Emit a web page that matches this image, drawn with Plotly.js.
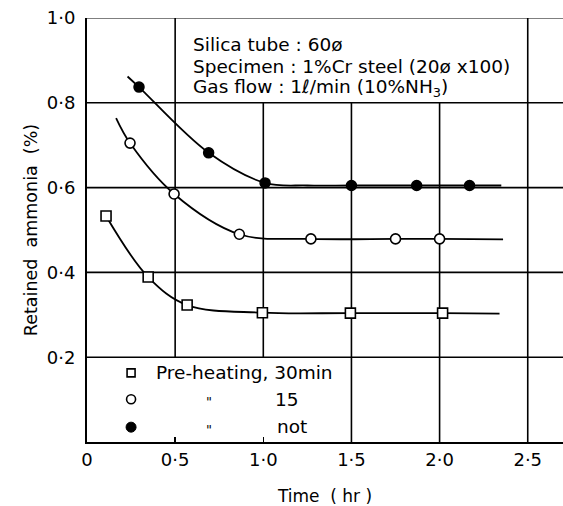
<!DOCTYPE html>
<html><head><meta charset="utf-8">
<script src="https://cdn.plot.ly/plotly-3.0.1.min.js"></script>
<style>body{margin:0;background:#fff}</style>
</head><body><div id="chart" style="width:563px;height:506px"></div>
<script>
// Measured points (time in hr, retained ammonia in %)
const notTime = [0.295, 0.69, 1.01, 1.5, 1.87, 2.17];
const notVal  = [0.837, 0.682, 0.611, 0.605, 0.605, 0.605];
const pre15Time = [0.244, 0.494, 0.864, 1.27, 1.75, 2.0];
const pre15Val  = [0.705, 0.585, 0.49, 0.479, 0.479, 0.479];
const pre30Time = [0.108, 0.347, 0.568, 0.995, 1.494, 2.017];
const pre30Val  = [0.533, 0.389, 0.323, 0.305, 0.304, 0.304];
// Hand-drawn fitted curves
const notCurveT = [0.23, 0.295, 0.69, 1.01, 1.25, 1.5, 1.87, 2.17, 2.35];
const notCurveV = [0.862, 0.837, 0.682, 0.611, 0.605, 0.605, 0.605, 0.605, 0.605];
const p15CurveT = [0.165, 0.244, 0.494, 0.864, 1.27, 1.75, 2.0, 2.36];
const p15CurveV = [0.764, 0.705, 0.585, 0.49, 0.479, 0.479, 0.479, 0.478];
const p30CurveT = [0.108, 0.347, 0.568, 0.995, 1.494, 2.017, 2.34];
const p30CurveV = [0.533, 0.389, 0.323, 0.305, 0.304, 0.304, 0.303];
const xTicks = [0, 0.5, 1.0, 1.5, 2.0, 2.5];
const xTickText = ["0", "0·5", "1·0", "1·5", "2·0", "2·5"];
const yTicks = [0.2, 0.4, 0.6, 0.8, 1.0];
const yTickText = ["0·2", "0·4", "0·6", "0·8", "1·0"];
const infoLines = ["Silica tube : 60ø", "Specimen : 1%Cr steel (20ø x100)", "Gas flow : 1ℓ/min (10%NH<sub>3</sub>)"];
const legendLabels = ["Pre-heating, 30min", "15", "not"];

const FONT = "DejaVu Sans, Verdana, sans-serif";
const lineStyle = {color: "black", width: 1.8, shape: "spline", smoothing: 1};
const traces = [
  {x: notCurveT, y: notCurveV, mode: "lines", line: lineStyle},
  {x: p15CurveT, y: p15CurveV, mode: "lines", line: lineStyle},
  {x: p30CurveT, y: p30CurveV, mode: "lines", line: lineStyle},
  {x: notTime, y: notVal, mode: "markers", marker: {symbol: "circle", size: 10, color: "black", line: {color: "black", width: 1.5}}},
  {x: pre15Time, y: pre15Val, mode: "markers", marker: {symbol: "circle", size: 10, color: "white", line: {color: "black", width: 1.6}}},
  {x: pre30Time, y: pre30Val, mode: "markers", marker: {symbol: "square", size: 10, color: "white", line: {color: "black", width: 1.6}}}
];

const G = {color: "black", width: 1.6};
function vline(x, y0, y1){ return {type: "line", xref: "x", yref: "y", x0: x, x1: x, y0: y0, y1: y1, line: G, layer: "below"}; }
function hline(y){ return {type: "line", xref: "x", yref: "y", x0: 0, x1: 2.7, y0: y, y1: y, line: G, layer: "below"}; }
const shapes = [
  hline(0.2), hline(0.4), hline(0.6), hline(0.8),
  {type: "line", xref: "x", yref: "y", x0: 0, x1: 2.7, y0: 1, y1: 1, line: {color: "black", width: 1.2}, layer: "below"},
  vline(0.5, 0.2, 1.0), vline(1.0, 0.2, 0.8), vline(1.5, 0, 0.8), vline(2.0, 0, 0.8), vline(2.5, 0, 1.0),
  // legend keys
  {type: "rect", xref: "x", yref: "y", xsizemode: "pixel", ysizemode: "pixel", xanchor: 0.25, yanchor: 0.163, x0: -4, x1: 4, y0: -4, y1: 4, line: {color: "black", width: 1.6}, fillcolor: "white"},
  {type: "circle", xref: "x", yref: "y", xsizemode: "pixel", ysizemode: "pixel", xanchor: 0.25, yanchor: 0.101, x0: -4.5, x1: 4.5, y0: -4.5, y1: 4.5, line: {color: "black", width: 1.6}, fillcolor: "white"},
  {type: "circle", xref: "x", yref: "y", xsizemode: "pixel", ysizemode: "pixel", xanchor: 0.25, yanchor: 0.035, x0: -5, x1: 5, y0: -5, y1: 5, line: {color: "black", width: 1}, fillcolor: "black"}
];

const annotations = [];
infoLines.forEach((t, i) => annotations.push({text: t, xref: "x", yref: "y", x: 0.59, y: [0.937, 0.885, 0.834][i], xanchor: "left", yanchor: "middle", showarrow: false, font: {family: FONT, size: 18.5, color: "black"}}));
annotations.push({text: legendLabels[0], xref: "x", yref: "y", x: 0.38, y: 0.163, xanchor: "left", yanchor: "middle", showarrow: false, font: {family: FONT, size: 18.5, color: "black"}});
annotations.push({text: legendLabels[1], xref: "x", yref: "y", x: 1.055, y: 0.101, xanchor: "left", yanchor: "middle", showarrow: false, font: {family: FONT, size: 18.5, color: "black"}});
annotations.push({text: legendLabels[2], xref: "x", yref: "y", x: 1.065, y: 0.037, xanchor: "left", yanchor: "middle", showarrow: false, font: {family: FONT, size: 18.5, color: "black"}});
annotations.push({text: "\"", xref: "x", yref: "y", x: 0.693, y: 0.095, showarrow: false, font: {family: FONT, size: 13, color: "black"}});
annotations.push({text: "\"", xref: "x", yref: "y", x: 0.693, y: 0.029, showarrow: false, font: {family: FONT, size: 13, color: "black"}});

const layout = {
  width: 563, height: 506,
  margin: {l: 87, r: 0, t: 18, b: 64},
  paper_bgcolor: "white", plot_bgcolor: "white",
  showlegend: false,
  font: {family: FONT, size: 16, color: "black"},
  xaxis: {range: [0, 2.7], tickvals: xTicks, ticktext: xTickText, showgrid: false, zeroline: false,
    showline: true, linecolor: "black", linewidth: 2, ticks: "inside", ticklen: 5, tickcolor: "black", tickwidth: 1.5,
    tickfont: {family: FONT, size: 18}, title: {text: "Time  ( hr )", font: {family: FONT, size: 17}, standoff: 24}},
  yaxis: {range: [0, 1.0], tickvals: yTicks, ticktext: yTickText, showgrid: false, zeroline: false,
    showline: true, linecolor: "black", linewidth: 2, ticks: "", ticklabelstandoff: 6,
    tickfont: {family: FONT, size: 18}, title: {text: "Retained  ammonia  (%)", font: {family: FONT, size: 17.5}, standoff: 5}},
  shapes: shapes, annotations: annotations
};
Plotly.newPlot("chart", traces, layout, {displayModeBar: false, staticPlot: true});
</script></body></html>
